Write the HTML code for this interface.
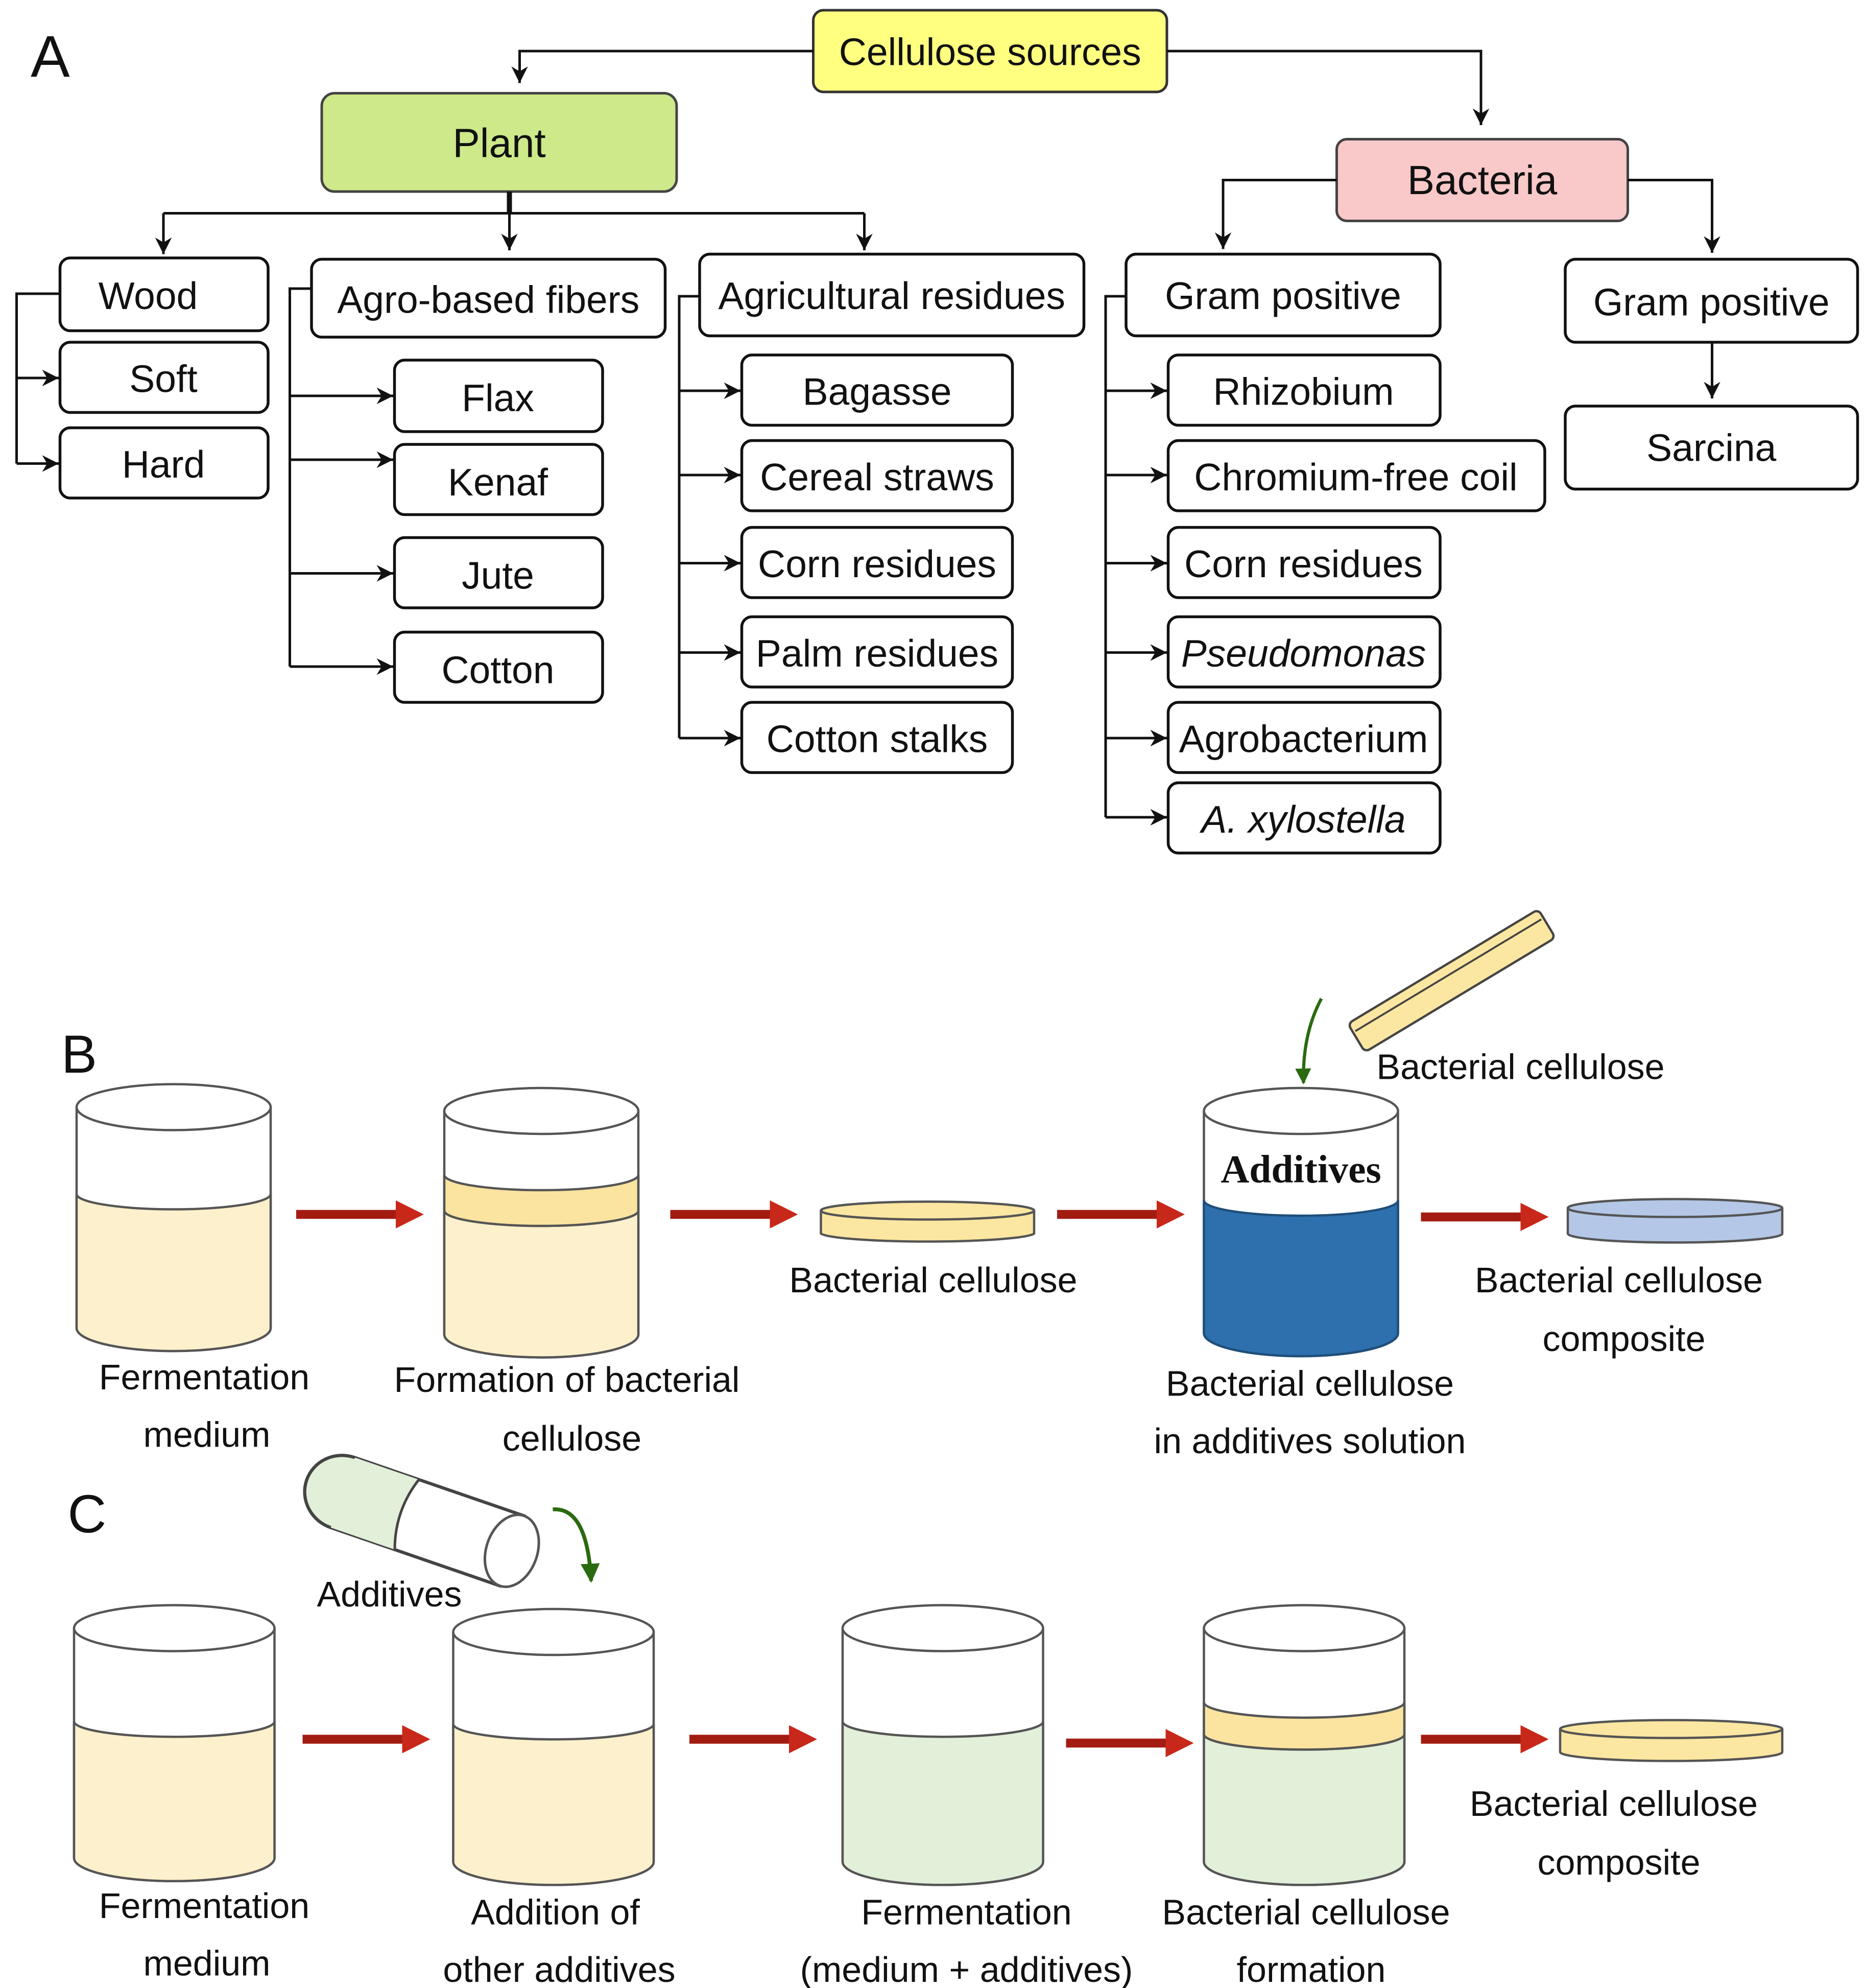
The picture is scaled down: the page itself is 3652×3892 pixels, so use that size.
<!DOCTYPE html>
<html><head><meta charset="utf-8"><style>
html,body{margin:0;padding:0;background:#fff;}
svg{display:block;}
.t{font-family:"Liberation Sans",sans-serif;fill:#111;}
.s{font-family:"Liberation Sans",sans-serif;fill:#111;font-size:28px;}
.bx{fill:#fff;stroke:#111;stroke-width:2.2;}
.ln{fill:none;stroke:#111;stroke-width:2;}
.cy{stroke:#555;stroke-width:1.8;}
</style></head><body>
<svg width="3652" height="3892" viewBox="0 0 1460.8 1556.8" preserveAspectRatio="none" xmlns="http://www.w3.org/2000/svg">
<defs>
<marker id="ah" viewBox="0 0 10 10" refX="10" refY="5" markerWidth="13" markerHeight="13" orient="auto" markerUnits="userSpaceOnUse"><path d="M0,0 L10,5 L0,10 L3,5 Z" fill="#111"/></marker>
<marker id="ag" viewBox="0 0 10 10" refX="9" refY="5" markerWidth="5" markerHeight="5" orient="auto"><path d="M0,0 L10,5 L0,10 Z" fill="#2a6a10"/></marker>
</defs>
<rect width="1460.8" height="1556.8" fill="#fff"/>

<!-- ============ A ============ -->
<text x="24" y="60" class="t" font-size="46">A</text>

<rect x="637" y="8" width="277" height="64" rx="8" fill="#ffff80" stroke="#333" stroke-width="2"/>
<text x="775.5" y="51" class="t" font-size="30" text-anchor="middle">Cellulose sources</text>
<path class="ln" d="M637,40 H407 V65" marker-end="url(#ah)"/>
<path class="ln" d="M914,40 H1160 V98" marker-end="url(#ah)"/>

<rect x="252" y="73" width="278" height="77" rx="10" fill="#cde98a" stroke="#444" stroke-width="2"/>
<text x="391" y="123" class="t" font-size="32" text-anchor="middle">Plant</text>

<rect x="1047" y="109" width="228" height="64" rx="8" fill="#f9c8c8" stroke="#444" stroke-width="2"/>
<text x="1161" y="152" class="t" font-size="32" text-anchor="middle">Bacteria</text>

<path d="M399,150 V167" stroke="#111" stroke-width="4"/>
<path class="ln" d="M128,167 H677"/>
<path class="ln" d="M128,167 V199" marker-end="url(#ah)"/>
<path class="ln" d="M399,167 V196" marker-end="url(#ah)"/>
<path class="ln" d="M677,167 V196" marker-end="url(#ah)"/>

<rect class="bx" x="47" y="202" width="163" height="57" rx="8"/>
<text x="116" y="242" class="t" font-size="30" text-anchor="middle">Wood</text>
<rect class="bx" x="47" y="268" width="163" height="55" rx="8"/>
<text x="128" y="307" class="t" font-size="30" text-anchor="middle">Soft</text>
<rect class="bx" x="47" y="335" width="163" height="55" rx="8"/>
<text x="128" y="374" class="t" font-size="30" text-anchor="middle">Hard</text>
<path class="ln" d="M47,230 H13 V363"/>
<path class="ln" d="M13,296 H46" marker-end="url(#ah)"/>
<path class="ln" d="M13,363 H46" marker-end="url(#ah)"/>

<rect class="bx" x="244" y="203" width="277" height="61" rx="8"/>
<text x="382.5" y="245" class="t" font-size="30" text-anchor="middle">Agro-based fibers</text>
<path class="ln" d="M244,226 H227 V522"/>
<path class="ln" d="M227,310 H308" marker-end="url(#ah)"/>
<path class="ln" d="M227,360 H308" marker-end="url(#ah)"/>
<path class="ln" d="M227,449 H308" marker-end="url(#ah)"/>
<path class="ln" d="M227,522 H308" marker-end="url(#ah)"/>
<rect class="bx" x="309" y="282" width="163" height="56" rx="8"/>
<text x="390" y="322" class="t" font-size="30" text-anchor="middle">Flax</text>
<rect class="bx" x="309" y="348" width="163" height="55" rx="8"/>
<text x="390" y="388" class="t" font-size="30" text-anchor="middle">Kenaf</text>
<rect class="bx" x="309" y="421" width="163" height="55" rx="8"/>
<text x="390" y="461" class="t" font-size="30" text-anchor="middle">Jute</text>
<rect class="bx" x="309" y="495" width="163" height="55" rx="8"/>
<text x="390" y="535" class="t" font-size="30" text-anchor="middle">Cotton</text>

<rect class="bx" x="548" y="199" width="301" height="64" rx="8"/>
<text x="698.5" y="242" class="t" font-size="30" text-anchor="middle">Agricultural residues</text>
<path class="ln" d="M548,232 H532 V578"/>
<path class="ln" d="M532,306 H580" marker-end="url(#ah)"/>
<path class="ln" d="M532,372 H580" marker-end="url(#ah)"/>
<path class="ln" d="M532,441 H580" marker-end="url(#ah)"/>
<path class="ln" d="M532,511 H580" marker-end="url(#ah)"/>
<path class="ln" d="M532,578 H580" marker-end="url(#ah)"/>
<rect class="bx" x="581" y="278" width="212" height="55" rx="8"/>
<text x="687" y="317" class="t" font-size="30" text-anchor="middle">Bagasse</text>
<rect class="bx" x="581" y="345" width="212" height="55" rx="8"/>
<text x="687" y="384" class="t" font-size="30" text-anchor="middle">Cereal straws</text>
<rect class="bx" x="581" y="413" width="212" height="55" rx="8"/>
<text x="687" y="452" class="t" font-size="30" text-anchor="middle">Corn residues</text>
<rect class="bx" x="581" y="483" width="212" height="55" rx="8"/>
<text x="687" y="522" class="t" font-size="30" text-anchor="middle">Palm residues</text>
<rect class="bx" x="581" y="550" width="212" height="55" rx="8"/>
<text x="687" y="589" class="t" font-size="30" text-anchor="middle">Cotton stalks</text>

<path class="ln" d="M1047,141 H958 V195" marker-end="url(#ah)"/>
<path class="ln" d="M1275,141 H1341 V198" marker-end="url(#ah)"/>

<rect class="bx" x="882" y="199" width="246" height="64" rx="8"/>
<text x="1005" y="242" class="t" font-size="30" text-anchor="middle">Gram positive</text>
<path class="ln" d="M882,232 H866 V640"/>
<path class="ln" d="M866,306 H914" marker-end="url(#ah)"/>
<path class="ln" d="M866,372 H914" marker-end="url(#ah)"/>
<path class="ln" d="M866,441 H914" marker-end="url(#ah)"/>
<path class="ln" d="M866,511 H914" marker-end="url(#ah)"/>
<path class="ln" d="M866,578 H914" marker-end="url(#ah)"/>
<path class="ln" d="M866,640 H914" marker-end="url(#ah)"/>
<rect class="bx" x="915" y="278" width="213" height="55" rx="8"/>
<text x="1021" y="317" class="t" font-size="30" text-anchor="middle">Rhizobium</text>
<rect class="bx" x="915" y="345" width="295" height="55" rx="8"/>
<text x="1062" y="384" class="t" font-size="30" text-anchor="middle">Chromium-free coil</text>
<rect class="bx" x="915" y="413" width="213" height="55" rx="8"/>
<text x="1021" y="452" class="t" font-size="30" text-anchor="middle">Corn residues</text>
<rect class="bx" x="915" y="483" width="213" height="55" rx="8"/>
<text x="1021" y="522" class="t" font-size="30" text-anchor="middle" font-style="italic">Pseudomonas</text>
<rect class="bx" x="915" y="550" width="213" height="55" rx="8"/>
<text x="1021" y="589" class="t" font-size="30" text-anchor="middle">Agrobacterium</text>
<rect class="bx" x="915" y="613" width="213" height="55" rx="8"/>
<text x="1021" y="652" class="t" font-size="30" text-anchor="middle" font-style="italic">A. xylostella</text>

<rect class="bx" x="1226" y="203" width="229" height="65" rx="8"/>
<text x="1340.5" y="247" class="t" font-size="30" text-anchor="middle">Gram positive</text>
<path class="ln" d="M1341,268 V312" marker-end="url(#ah)"/>
<rect class="bx" x="1226" y="318" width="229" height="65" rx="8"/>
<text x="1340.5" y="361" class="t" font-size="30" text-anchor="middle">Sarcina</text>

<!-- ============ B ============ -->
<text x="48" y="840" class="t" font-size="42">B</text>

<path d="M60,867 V1040 A76,18 0 0 0 212,1040 V867" fill="#fff" class="cy"/>
<path d="M60,935 V1040 A76,18 0 0 0 212,1040 V935 A76,12 0 0 1 60,935 Z" fill="#fdf0cc" class="cy"/>
<ellipse cx="136" cy="867" rx="76" ry="18" fill="#fff" class="cy"/>
<path d="M232,951 H312" stroke="#a31c12" stroke-width="7"/><path d="M310,940 L332,951 L310,962 Z" fill="#c8281a"/>

<path d="M348,870 V1045 A76,18 0 0 0 500,1045 V870" fill="#fff" class="cy"/>
<path d="M348,948 V1045 A76,18 0 0 0 500,1045 V948 A76,12 0 0 1 348,948 Z" fill="#fdf0cc" class="cy"/>
<path d="M348,920 V948 A76,12 0 0 0 500,948 V920 A76,12 0 0 1 348,920 Z" fill="#fbe3a0" class="cy"/>
<ellipse cx="424" cy="870" rx="76" ry="18" fill="#fff" class="cy"/>
<path d="M525,951 H605" stroke="#a31c12" stroke-width="7"/><path d="M603,940 L625,951 L603,962 Z" fill="#c8281a"/>

<path d="M643,948 V966 A84,7 0 0 0 810,966 V948" fill="#fbe7a1" class="cy"/>
<ellipse cx="726.5" cy="948" rx="83.5" ry="7" fill="#fbe7a1" class="cy"/>
<text x="731" y="1012" class="s" text-anchor="middle">Bacterial cellulose</text>
<path d="M828,951 H908" stroke="#a31c12" stroke-width="7"/><path d="M906,940 L928,951 L906,962 Z" fill="#c8281a"/>

<path d="M943,870 V1044 A76,18 0 0 0 1095,1044 V870" fill="#fff" class="cy"/>
<path d="M943,940 V1044 A76,18 0 0 0 1095,1044 V940 A76,12 0 0 1 943,940 Z" fill="#2e6fae" stroke="#1f4e7a" stroke-width="1.8"/>
<ellipse cx="1019" cy="870" rx="76" ry="18" fill="#fff" class="cy"/>
<text x="1019" y="926" font-family="Liberation Serif,serif" font-weight="bold" font-size="31" fill="#111" text-anchor="middle">Additives</text>
<path d="M1035,782 Q1020,810 1021,848" fill="none" stroke="#2a6a10" stroke-width="2.5" marker-end="url(#ag)"/>
<g transform="rotate(-31 1137 768)">
<rect x="1050" y="755" width="174" height="26" rx="4" fill="#fbe7a1" stroke="#444" stroke-width="1.8"/>
<line x1="1052" y1="763" x2="1222" y2="763" stroke="#444" stroke-width="1.5"/>
</g>
<text x="1191" y="845" class="s" text-anchor="middle">Bacterial cellulose</text>

<path d="M1113,953 H1193" stroke="#a31c12" stroke-width="7"/><path d="M1191,942 L1213,953 L1191,964 Z" fill="#c8281a"/>
<path d="M1228,946 V966 A84,7 0 0 0 1396,966 V946" fill="#b4c7e7" class="cy"/>
<ellipse cx="1312" cy="946" rx="84" ry="7" fill="#b4c7e7" class="cy"/>
<text x="1268" y="1012" class="s" text-anchor="middle">Bacterial cellulose</text>
<text x="1272" y="1058" class="s" text-anchor="middle">composite</text>

<text x="160" y="1088" class="s" text-anchor="middle">Fermentation</text>
<text x="162" y="1133" class="s" text-anchor="middle">medium</text>
<text x="444" y="1090" class="s" text-anchor="middle">Formation of bacterial</text>
<text x="448" y="1136" class="s" text-anchor="middle">cellulose</text>
<text x="1026" y="1093" class="s" text-anchor="middle">Bacterial cellulose</text>
<text x="1026" y="1138" class="s" text-anchor="middle">in additives solution</text>

<!-- ============ C ============ -->
<text x="53" y="1200" class="t" font-size="42">C</text>

<g transform="rotate(19 330 1190)">
<path d="M265,1161 H405 V1219 H265 A30,29 0 0 1 265,1161 Z" fill="#fff" stroke="#444" stroke-width="2.5"/>
<path d="M265,1161 H318 Q308,1190 318,1219 H265 A30,29 0 0 1 265,1161 Z" fill="#e2efd9"/>
<path d="M318,1161 Q308,1190 318,1219" fill="none" stroke="#444" stroke-width="2"/>
<path d="M265,1161 A30,29 0 0 0 265,1219" fill="none" stroke="#444" stroke-width="2.5"/>
<ellipse cx="405" cy="1190" rx="20" ry="29" fill="#fff" stroke="#555" stroke-width="2"/>
</g>
<text x="305" y="1258" class="s" text-anchor="middle">Additives</text>
<path d="M433,1182 Q460,1180 463,1238" fill="none" stroke="#2a6a10" stroke-width="3" marker-end="url(#ag)"/>

<path d="M58,1275 V1455 A78,18 0 0 0 215,1455 V1275" fill="#fff" class="cy"/>
<path d="M58,1348 V1455 A78,18 0 0 0 215,1455 V1348 A78,12 0 0 1 58,1348 Z" fill="#fdf0cc" class="cy"/>
<ellipse cx="136.5" cy="1275" rx="78.5" ry="18" fill="#fff" class="cy"/>
<path d="M237,1362 H317" stroke="#a31c12" stroke-width="7"/><path d="M315,1351 L337,1362 L315,1373 Z" fill="#c8281a"/>

<path d="M355,1278 V1458 A78,18 0 0 0 512,1458 V1278" fill="#fff" class="cy"/>
<path d="M355,1350 V1458 A78,18 0 0 0 512,1458 V1350 A78,12 0 0 1 355,1350 Z" fill="#fdf0cc" class="cy"/>
<ellipse cx="433.5" cy="1278" rx="78.5" ry="18" fill="#fff" class="cy"/>
<path d="M540,1362 H620" stroke="#a31c12" stroke-width="7"/><path d="M618,1351 L640,1362 L618,1373 Z" fill="#c8281a"/>

<path d="M660,1275 V1458 A78,18 0 0 0 817,1458 V1275" fill="#fff" class="cy"/>
<path d="M660,1348 V1458 A78,18 0 0 0 817,1458 V1348 A78,12 0 0 1 660,1348 Z" fill="#e2efd9" class="cy"/>
<ellipse cx="738.5" cy="1275" rx="78.5" ry="18" fill="#fff" class="cy"/>
<path d="M835,1365 H915" stroke="#a31c12" stroke-width="7"/><path d="M913,1354 L935,1365 L913,1376 Z" fill="#c8281a"/>

<path d="M943,1275 V1458 A78,18 0 0 0 1100,1458 V1275" fill="#fff" class="cy"/>
<path d="M943,1358 V1458 A78,18 0 0 0 1100,1458 V1358 A78,12 0 0 1 943,1358 Z" fill="#e2efd9" class="cy"/>
<path d="M943,1333 V1358 A78,12 0 0 0 1100,1358 V1333 A78,12 0 0 1 943,1333 Z" fill="#fbe3a0" class="cy"/>
<ellipse cx="1021.5" cy="1275" rx="78.5" ry="18" fill="#fff" class="cy"/>
<path d="M1113,1362 H1193" stroke="#a31c12" stroke-width="7"/><path d="M1191,1351 L1213,1362 L1191,1373 Z" fill="#c8281a"/>

<path d="M1222,1354 V1372 A87,7 0 0 0 1396,1372 V1354" fill="#fbe7a1" class="cy"/>
<ellipse cx="1309" cy="1354" rx="87" ry="7" fill="#fbe7a1" class="cy"/>
<text x="1264" y="1422" class="s" text-anchor="middle">Bacterial cellulose</text>
<text x="1268" y="1468" class="s" text-anchor="middle">composite</text>

<text x="160" y="1502" class="s" text-anchor="middle">Fermentation</text>
<text x="162" y="1547" class="s" text-anchor="middle">medium</text>
<text x="435" y="1507" class="s" text-anchor="middle">Addition of</text>
<text x="438" y="1552" class="s" text-anchor="middle">other additives</text>
<text x="757" y="1507" class="s" text-anchor="middle">Fermentation</text>
<text x="757" y="1552" class="s" text-anchor="middle">(medium + additives)</text>
<text x="1023" y="1507" class="s" text-anchor="middle">Bacterial cellulose</text>
<text x="1027" y="1552" class="s" text-anchor="middle">formation</text>
</svg>
</body></html>
